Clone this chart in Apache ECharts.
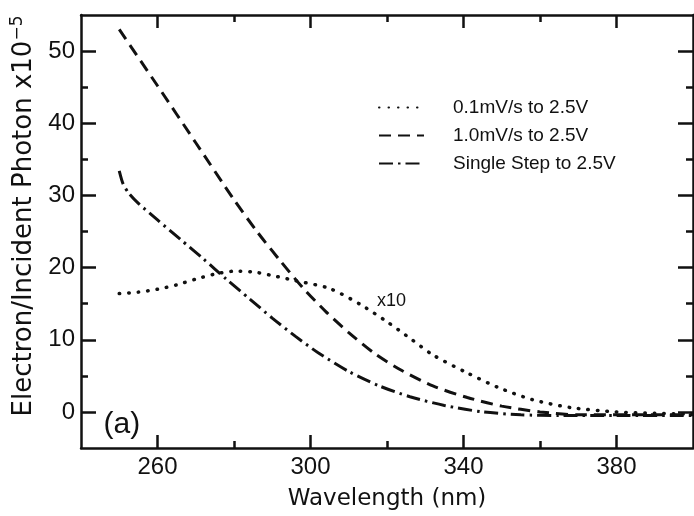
<!DOCTYPE html>
<html>
<head>
<meta charset="utf-8">
<script src="https://cdn.jsdelivr.net/npm/echarts@6/dist/echarts.min.js"></script>
<style>html,body{margin:0;padding:0;background:#fff}#c{width:694px;height:516px}</style>
</head>
<body>
<div id="c"></div>
<script>
// Data
const seriesNames = ['0.1mV/s to 2.5V', '1.0mV/s to 2.5V', 'Single Step to 2.5V'];
const dottedWl  = [250, 255, 260, 265, 270, 275, 280, 285, 290, 296, 305, 313, 320, 325, 332, 341, 349, 358, 368, 380, 390, 400];
const dottedVal = [16.4, 16.6, 17.0, 17.6, 18.4, 19.1, 19.5, 19.4, 18.9, 18.2, 17.1, 14.9, 12.5, 10.6, 7.9, 5.4, 3.4, 1.7, 0.6, 0.0, -0.2, -0.3];
const dashWl  = [250, 260, 270, 280, 286, 292, 298, 304, 310, 317, 324, 332, 341, 350, 360, 370, 385, 400];
const dashVal = [53, 45.2, 37.3, 29.4, 25.0, 21.0, 17.2, 13.9, 11.0, 8.0, 5.7, 3.6, 2.0, 0.8, 0.0, -0.4, -0.4, -0.4];
const stepWl  = [250, 251, 252.5, 255, 260, 266, 272, 278, 284, 290, 296, 302, 310, 318, 326, 335, 345, 355, 365, 380, 400];
const stepVal = [33.4, 31.6, 30.3, 28.9, 26.6, 23.9, 21.2, 18.4, 15.7, 13.0, 10.5, 8.2, 5.6, 3.6, 2.1, 0.9, 0.0, -0.4, -0.5, -0.5, -0.5];
const xMajorTicks = [260, 300, 340, 380];
const xMinorTicks = [280, 320, 360];
const yMajorTicks = [0, 10, 20, 30, 40, 50];
const yMinorTicks = [5, 15, 25, 35, 45];
const xRange = [240, 400];
const yRange = [-5, 55];

const pairs = (xs, ys) => xs.map((x, i) => [x, ys[i]]);
const black = '#111';
const lineW = 2.5;

function xAx(pos, ticks, len, showLine, showLabel, extra) {
  return Object.assign({
    type: 'value', position: pos, min: xRange[0], max: xRange[1], gridIndex: 0,
    axisLine: { show: showLine, onZero: false, lineStyle: { color: black, width: lineW } },
    axisTick: { show: true, inside: true, length: len, customValues: ticks, lineStyle: { color: black, width: lineW } },
    axisLabel: { show: showLabel, customValues: ticks, color: black, fontFamily: 'Liberation Sans', fontSize: 24, margin: 7 },
    splitLine: { show: false }
  }, extra || {});
}
function yAx(pos, ticks, len, showLine, showLabel, extra) {
  return Object.assign({
    type: 'value', position: pos, min: yRange[0], max: yRange[1], gridIndex: 0,
    axisLine: { show: showLine, onZero: false, lineStyle: { color: black, width: lineW } },
    axisTick: { show: true, inside: true, length: len, customValues: ticks, lineStyle: { color: black, width: lineW } },
    axisLabel: { show: showLabel, customValues: ticks, color: black, fontFamily: 'Liberation Sans', fontSize: 24, margin: 6 },
    splitLine: { show: false }
  }, extra || {});
}

const chart = echarts.init(document.getElementById('c'), null, { renderer: 'canvas' });
const option = {
  backgroundColor: '#fff',
  animation: false,
  grid: { left: 81, top: 15, width: 612, height: 437, containLabel: false },
  legend: {
    orient: 'vertical', left: 373, top: 93, itemWidth: 45, itemHeight: 14, itemGap: 9,
    itemStyle: { opacity: 0 },
    textStyle: { color: black, fontFamily: 'Liberation Sans', fontSize: 19, padding: [0, 0, 0, 24] },
    data: seriesNames
  },
  xAxis: [
    xAx('bottom', xMajorTicks, 13, true, true, {
      name: 'Wavelength (nm)', nameLocation: 'middle', nameGap: 40,
      nameTextStyle: { color: black, fontFamily: 'DejaVu Sans', fontSize: 23 }
    }),
    xAx('bottom', xMinorTicks, 7, false, false),
    xAx('top', xMajorTicks, 13, true, false),
    xAx('top', xMinorTicks, 7, false, false)
  ],
  yAxis: [
    yAx('left', yMajorTicks, 15, true, true, {
      name: 'Electron/Incident Photon x10{sup|\u22125}', nameLocation: 'middle', nameGap: 39, nameRotate: 90,
      nameTextStyle: { color: black, fontFamily: 'DejaVu Sans', fontSize: 26, padding: [0, 0, 0, 31],
        rich: { sup: { fontFamily: 'DejaVu Sans', fontSize: 17, color: black, verticalAlign: 'top', padding: [0, 0, 14, 0] } } }
    }),
    yAx('left', yMinorTicks, 7, false, false),
    yAx('right', yMajorTicks, 15, true, false),
    yAx('right', yMinorTicks, 7, false, false)
  ],
  series: [
    { name: seriesNames[0], type: 'line', xAxisIndex: 0, yAxisIndex: 0, symbol: 'none', smooth: 0.25,
      data: pairs(dottedWl, dottedVal),
      lineStyle: { color: black, width: 3.5, type: [0.5, 9], cap: 'round' }, itemStyle: { color: black } },
    { name: seriesNames[1], type: 'line', xAxisIndex: 0, yAxisIndex: 0, symbol: 'none', smooth: 0.25,
      data: pairs(dashWl, dashVal),
      lineStyle: { color: black, width: 3, type: [12, 7] }, itemStyle: { color: black } },
    { name: seriesNames[2], type: 'line', xAxisIndex: 0, yAxisIndex: 0, symbol: 'none', smooth: 0.25,
      data: pairs(stepWl, stepVal),
      lineStyle: { color: black, width: 3, type: [14, 5, 2.5, 5] }, itemStyle: { color: black } }
  ]
};
chart.setOption(option);

// Annotations positioned in data coordinates
const annos = [
  { text: 'x10', at: [321.2, 15.4], size: 18, font: 'Liberation Sans' },
  { text: '(a)', at: [250.7, -1.8], size: 30, font: 'Liberation Sans' }
];
chart.setOption({
  graphic: annos.map(a => {
    const p = chart.convertToPixel({ xAxisIndex: 0, yAxisIndex: 0 }, a.at);
    return { type: 'text', x: p[0], y: p[1], style: { text: a.text, fill: black, font: a.size + 'px "' + a.font + '"', textAlign: 'center', textVerticalAlign: 'middle' } };
  })
});
</script>
</body>
</html>
